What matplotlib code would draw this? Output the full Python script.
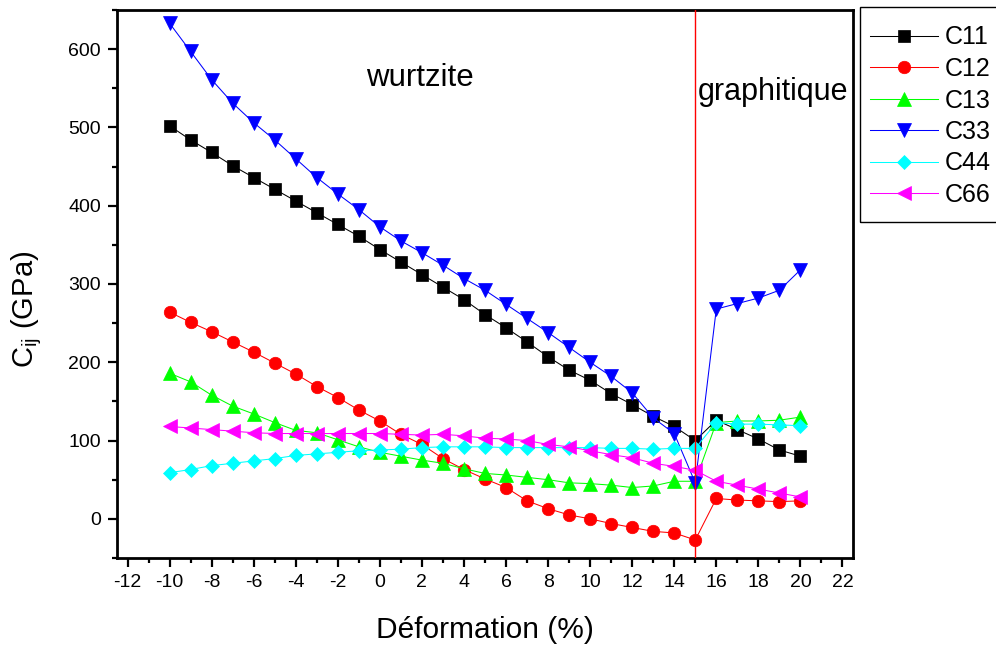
import matplotlib
matplotlib.use("Agg")
import matplotlib.pyplot as plt
from matplotlib.patches import Rectangle
from matplotlib.ticker import MultipleLocator

plt.rcParams.update({
    "font.family": ["Liberation Sans", "DejaVu Sans"],
    "mathtext.default": "regular",
    "axes.unicode_minus": False,
})

# strain (%) and elastic constants (GPa)
strain = list(range(-10, 21))

C11 = [502, 484, 468, 451, 436, 421, 406, 391, 376, 361, 344, 328, 312, 296,
       280, 261, 244, 226, 207, 190, 177, 160, 146, 131, 118, 100, 126, 114, 102, 88, 80]
C12 = [264, 251, 239, 226, 213, 199, 185, 169, 155, 139, 125, 108, 95, 77,
       63, 51, 40, 23, 13, 5, 0, -6, -11, -16, -18, -27, 26, 24, 23, 22, 23]
C13 = [186, 175, 158, 144, 134, 123, 113, 110, 101, 92, 85, 80, 75, 71,
       64, 58, 56, 53, 50, 46, 45, 43, 40, 42, 48, 48, 123, 125, 125, 126, 130]
C33 = [633, 597, 561, 531, 506, 484, 460, 436, 415, 395, 373, 355, 340, 324,
       307, 292, 274, 256, 238, 219, 200, 182, 161, 129, 109, 46, 268, 275, 282, 292, 318]
C44 = [59, 63, 68, 71, 74, 77, 81, 83, 85, 87, 88, 89, 91, 92,
       92, 92, 91, 91, 91, 91, 91, 90, 90, 89, 90, 90, 123, 121, 121, 120, 119]
C66 = [118, 116, 114, 112, 110, 109, 109, 109, 109, 109, 109, 108, 107, 108,
       106, 103, 102, 100, 95, 92, 87, 82, 78, 71, 67, 62, 48, 43, 38, 33, 28]

transition = 15  # wurtzite -> graphitic

series = [
    ("C11", C11, "black", "s", 8),
    ("C12", C12, "#ff0000", "o", 9),
    ("C13", C13, "#00ff00", "^", 10),
    ("C33", C33, "#0000ff", "v", 10),
    ("C44", C44, "#00ffff", "D", 7),
    ("C66", C66, "#ff00ff", "<", 10),
]

W, H = 996, 648
fig = plt.figure(figsize=(W / 100, H / 100), dpi=100)
ax = fig.add_axes([0.1175, 0.1389, 0.7389, 0.8457])

for name, vals, col, mk, ms in series:
    ax.plot(strain, vals, "-", color=col, lw=0.75, marker=mk, ms=ms,
            mfc=col, mec=col, mew=0.5, label=name)

ax.axvline(transition, color="#ff0000", lw=1, zorder=10)

ax.text(1.9, 563, "wurtzite", fontsize=22.5, ha="center", va="center")
ax.text(18.7, 545, "graphitique", fontsize=22, ha="center", va="center")

ax.set_xlim(-12.5, 22.5)
ax.set_ylim(-50, 650)
ax.xaxis.set_major_locator(MultipleLocator(2))
ax.xaxis.set_minor_locator(MultipleLocator(1))
ax.yaxis.set_major_locator(MultipleLocator(100))
ax.yaxis.set_minor_locator(MultipleLocator(50))
ax.set_yticks(range(0, 601, 100))

for s in ax.spines.values():
    s.set_linewidth(2)
ax.tick_params(which="major", direction="out", length=6.5, width=1.6,
               labelsize=14, pad=5)
ax.tick_params(which="minor", direction="out", length=3.5, width=1.6)

ax.set_xlabel("Déformation (%)", fontsize=21.5, va="center")
ax.set_ylabel(r"C$_{ij}$ (GPa)", fontsize=21)
ax.xaxis.set_label_coords(0.5, -0.131)
ax.yaxis.set_label_coords(-0.099, 0.453)

# legend sits right of the axes, its box runs off the right edge
ax.legend(loc="upper left", bbox_to_anchor=(870 / W, 1 - 25.5 / H),
          bbox_transform=fig.transFigure, fontsize=18, frameon=False,
          handlelength=2.7, handletextpad=0.3, labelspacing=0.3,
          borderpad=0, borderaxespad=0)
fig.add_artist(Rectangle((860 / W, 1 - 222 / H), 200 / W, 215 / H,
                         transform=fig.transFigure, fill=False,
                         ec="black", lw=1))

plt.savefig("out.png", dpi=100)
